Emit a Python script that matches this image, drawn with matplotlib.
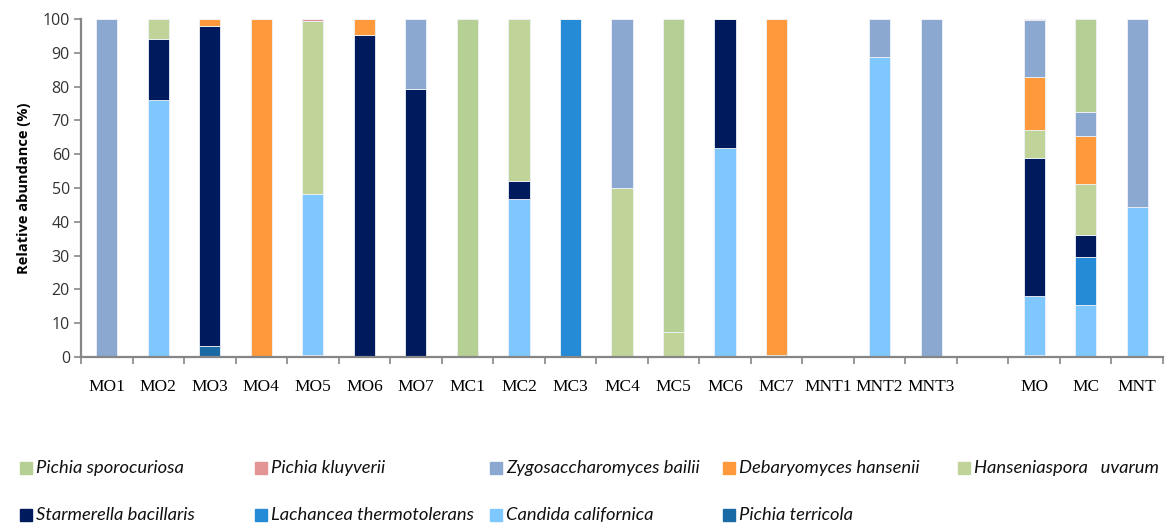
import numpy as np
import matplotlib
matplotlib.use("Agg")
import matplotlib.pyplot as plt
from matplotlib.patches import Rectangle

# sample names (blank slot separates the per-sample bars from the group means)
samples = ["MO1", "MO2", "MO3", "MO4", "MO5", "MO6", "MO7",
           "MC1", "MC2", "MC3", "MC4", "MC5", "MC6", "MC7",
           "MNT1", "MNT2", "MNT3", "", "MO", "MC", "MNT"]

# relative abundance (%) per species, same order as samples
p_terricola = [0, 0, 3.2, 0, 0.7, 0, 0, 0, 0, 0, 0, 0, 0, 0, 0, 0, 0, 0, 0.5, 0, 0]
c_californica = [0, 76, 0, 0, 47.5, 0, 0, 0, 46.6, 0, 0, 0, 61.9, 0, 0, 88.7, 0, 0, 17.6, 15.5, 44.4]
l_thermotolerans = [0, 0, 0, 0, 0, 0, 0, 0, 0, 100, 0, 0, 0, 0, 0, 0, 0, 0, 0, 14.2, 0]
s_bacillaris = [0, 18, 94.7, 0, 0, 95.3, 79.2, 0, 5.5, 0, 0, 0, 38.1, 0.5, 0, 0, 0, 0, 40.9, 6.3, 0]
h_uvarum = [0, 6, 0, 0, 51.2, 0, 0, 0, 47.9, 0, 49.9, 7.5, 0, 0, 0, 0, 0, 0, 8.3, 15.2, 0]
d_hansenii = [0, 0, 2.1, 100, 0, 4.7, 0, 0, 0, 0, 0, 0, 0, 99.5, 0, 0, 0, 0, 15.4, 14.2, 0]
z_bailii = [100, 0, 0, 0, 0, 0, 20.8, 0, 0, 0, 50.1, 0, 0, 0, 0, 11.3, 100, 0, 17.0, 7.2, 55.6]
p_kluyverii = [0, 0, 0, 0, 0.6, 0, 0, 0, 0, 0, 0, 0, 0, 0, 0, 0, 0, 0, 0.3, 0, 0]
p_sporocuriosa = [0, 0, 0, 0, 0, 0, 0, 100, 0, 0, 0, 92.5, 0, 0, 0, 0, 0, 0, 0, 27.4, 0]

# stacking order bottom -> top
stack = [
    ("Pichia terricola", p_terricola, "#1a6aa5"),
    ("Candida californica", c_californica, "#7fc8ff"),
    ("Lachancea thermotolerans", l_thermotolerans, "#258bd6"),
    ("Starmerella bacillaris", s_bacillaris, "#001a5e"),
    ("Hanseniaspora   uvarum", h_uvarum, "#c0d49a"),
    ("Debaryomyces hansenii", d_hansenii, "#ff9a3c"),
    ("Zygosaccharomyces bailii", z_bailii, "#8aa8d0"),
    ("Pichia kluyverii", p_kluyverii, "#e39494"),
    ("Pichia sporocuriosa", p_sporocuriosa, "#b5cf95"),
]
colors = {name: c for name, _, c in stack}

# legend layout as in the original (row by row)
legend_rows = [
    ["Pichia sporocuriosa", "Pichia kluyverii", "Zygosaccharomyces bailii",
     "Debaryomyces hansenii", "Hanseniaspora   uvarum"],
    ["Starmerella bacillaris", "Lachancea thermotolerans", "Candida californica",
     "Pichia terricola"],
]

W, H = 1166, 525
fig = plt.figure(figsize=(W / 100, H / 100), dpi=100)
ax = fig.add_axes([81 / W, 1 - 357 / H, (1163 - 81) / W, (357 - 19) / H])

x = np.arange(len(samples))
bottom = np.zeros(len(samples))
for name, vals, col in stack:
    vals = np.array(vals, dtype=float)
    ax.bar(x, vals, width=0.41, bottom=bottom, color=col,
           edgecolor="#eef2f8", linewidth=0.6, zorder=2)
    bottom += vals

ax.set_xlim(-0.5, len(samples) - 0.5)
ax.set_ylim(0, 100)
ax.set_yticks(np.arange(0, 101, 10))
ax.tick_params(axis="y", labelsize=11.5, length=5, width=1.2, color="#868686",
               labelcolor="#333333", pad=3)
for lab in ax.get_yticklabels():
    lab.set_fontfamily("Open Sans")

ax.set_xticks(x)
ax.set_xticklabels(samples, fontfamily="Liberation Serif", fontsize=12.5)
ax.tick_params(axis="x", which="major", length=0, pad=16)
ax.set_xticks(np.arange(-0.5, len(samples)), minor=True)
ax.tick_params(axis="x", which="minor", length=5, width=1.2, color="#868686")

for s in ["top", "right"]:
    ax.spines[s].set_visible(False)
for s in ["left", "bottom"]:
    ax.spines[s].set_color("#868686")
    ax.spines[s].set_linewidth(1.6)

ax.set_ylabel("Relative abundance (%)", fontfamily="Open Sans", fontweight="bold",
              fontsize=10.5, labelpad=8)

# hand-placed legend to match the fixed column spacing
col_x = [20, 255, 490, 723, 958]
row_y = [468, 515]
for r, row in enumerate(legend_rows):
    for c, name in enumerate(row):
        x0, y0 = col_x[c], row_y[r]
        fig.patches.append(Rectangle((x0 / W, 1 - (y0 + 6) / H), 12 / W, 12 / H,
                                     transform=fig.transFigure, color=colors[name]))
        fig.text((x0 + 16) / W, 1 - y0 / H, name, fontfamily="Lato", fontstyle="italic",
                 fontsize=13.2, va="center", ha="left", color="#111111")

fig.savefig("out.png", dpi=100)
